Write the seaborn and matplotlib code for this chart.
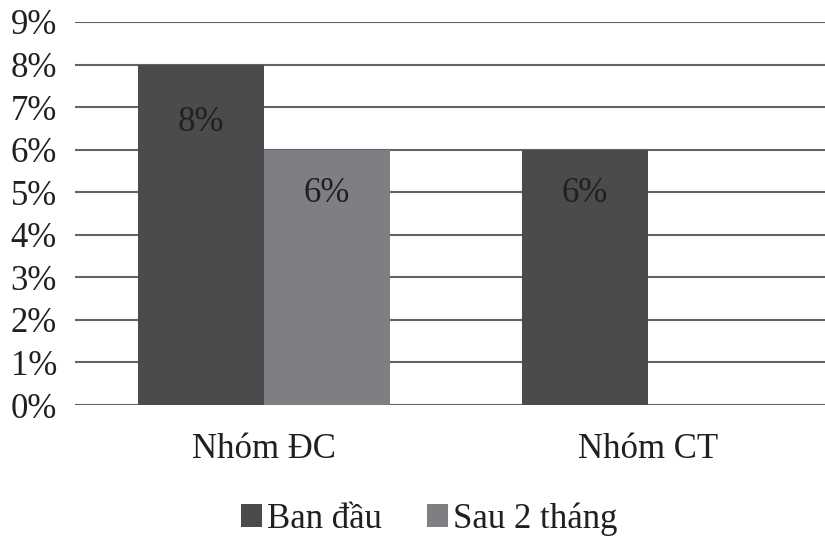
import matplotlib
matplotlib.use("Agg")
import matplotlib.pyplot as plt
import seaborn as sns
import pandas as pd

groups = ["Nhóm ĐC", "Nhóm CT"]
series = ["Ban đầu", "Sau 2 tháng"]
ban_dau = [8, 6]
sau_2_thang = [6, 0]
yticks = [0, 1, 2, 3, 4, 5, 6, 7, 8, 9]
colors = ["#4a4b4d", "#7e7f82"]

rows = []
for g, v in zip(groups, ban_dau):
    rows.append({"group": g, "series": series[0], "value": v})
for g, v in zip(groups, sau_2_thang):
    rows.append({"group": g, "series": series[1], "value": v})
df = pd.DataFrame(rows)

FAM = "Liberation Serif"
plt.rcParams["font.family"] = [FAM]
txt = "#231f20"

fig = plt.figure(figsize=(8.25, 5.39), dpi=100)
ax = fig.add_axes([75 / 825, 1 - 405 / 539, 750 / 825, (405 - 22) / 539])

sns.barplot(data=df, x="group", y="value", hue="series", order=groups,
            hue_order=series, palette=colors, width=0.656, saturation=1,
            linewidth=0, ax=ax, legend=True)

ax.set_xlim(-0.492, 1.461)
ax.set_ylim(0, 9)
ax.set_yticks(yticks)
ax.set_yticklabels([f"{t}%" for t in yticks])
ax.set_axisbelow(True)
ax.yaxis.grid(True, color="#636366", linewidth=1.5)
ax.xaxis.grid(False)
for s in ax.spines.values():
    s.set_visible(False)
ax.tick_params(axis="y", length=0, pad=13, labelsize=25, labelcolor=txt)
ax.tick_params(axis="x", length=0, pad=20, labelsize=25, labelcolor=txt)
ax.set_xlabel("")
ax.set_ylabel("")

for p in ax.patches:
    h = p.get_height()
    if h and h > 0:
        ax.text(p.get_x() + p.get_width() / 2, h * 0.83, f"{h:.0f}%",
                ha="center", va="center", fontsize=25, color=txt)

handles, labels = ax.get_legend_handles_labels()
ax.legend_.remove()
fig.legend(handles, labels, loc="center", bbox_to_anchor=(429 / 825, 1 - 519 / 539),
           ncol=2, frameon=False, fontsize=25, handlelength=0.6, handleheight=0.6,
           handletextpad=0.15, columnspacing=1.3, labelcolor=txt,
           borderpad=0, borderaxespad=0)

fig.savefig("out.png", dpi=100)
